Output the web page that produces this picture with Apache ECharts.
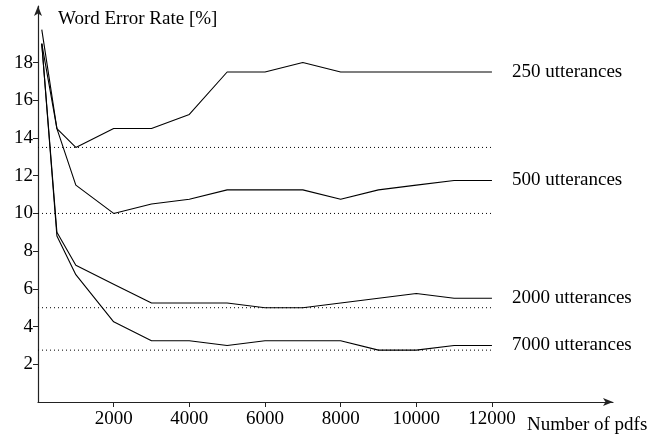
<!DOCTYPE html>
<html>
<head>
<meta charset="utf-8">
<script src="https://cdn.jsdelivr.net/npm/echarts@6/dist/echarts.min.js"></script>
<style>html,body{margin:0;padding:0;background:#fff}#c{width:658px;height:435px}</style>
</head>
<body>
<div id="c"></div>
<script>
const pdfs = [100, 500, 1000, 2000, 3000, 4000, 5000, 6000, 7000, 8000, 9000, 10000, 11000, 12000];
const names = ['250 utterances', '500 utterances', '2000 utterances', '7000 utterances'];
const wer250  = [19.75, 14.5, 13.5, 14.5, 14.5, 15.25, 17.5, 17.5, 18.0, 17.5, 17.5, 17.5, 17.5, 17.5];
const wer500  = [19.0, 14.5, 11.5, 10.0, 10.5, 10.75, 11.25, 11.25, 11.25, 10.75, 11.25, 11.5, 11.75, 11.75];
const wer2000 = [19.0, 9.0, 7.25, 6.25, 5.25, 5.25, 5.25, 5.0, 5.0, 5.25, 5.5, 5.75, 5.5, 5.5];
const wer7000 = [19.0, 8.8, 6.75, 4.25, 3.25, 3.25, 3.0, 3.25, 3.25, 3.25, 2.75, 2.75, 3.0, 3.0];
const refLevels = [13.5, 10.0, 5.0, 2.75];
const refRange = [0, 12000];
const xTicks = [2000, 4000, 6000, 8000, 10000, 12000];
const yTicks = [2, 4, 6, 8, 10, 12, 14, 16, 18];

const FONT = '"Liberation Serif", "DejaVu Serif", serif';
const FS = 19;
const allSeries = [wer250, wer500, wer2000, wer7000];

const series = [];
refLevels.forEach(function (lv) {
  series.push({
    type: 'line', silent: true, symbol: 'none',
    data: refRange.map(function (x) { return [x, lv]; }),
    lineStyle: { color: '#000', width: 1, type: [1, 3] }
  });
});
allSeries.forEach(function (ys, i) {
  series.push({
    name: names[i], type: 'line', symbol: 'none',
    data: pdfs.map(function (x, j) { return [x, ys[j]]; }),
    lineStyle: { color: '#000', width: 1.1 },
    endLabel: { show: true, formatter: '{a}', distance: 20, color: '#000', fontFamily: FONT, fontSize: FS }
  });
});

const baseX = { type: 'value', min: 0, max: 15200, splitLine: { show: false } };
const baseY = { type: 'value', min: 0, max: 21, splitLine: { show: false } };

const option = {
  animation: false,
  backgroundColor: '#fff',
  grid: { left: 38, right: 45, top: 6, bottom: 32, containLabel: false },
  xAxis: [
    Object.assign({}, baseX, {
      name: 'Number of pdfs', nameLocation: 'end', nameGap: -86,
      nameTextStyle: { color: '#000', fontFamily: FONT, fontSize: FS, align: 'left', verticalAlign: 'top', padding: [14, 0, 0, 0] },
      axisLine: { show: true, lineStyle: { color: '#222', width: 1.2 }, symbol: ['none', 'arrow'], symbolSize: [6, 10] },
      axisTick: { show: true, inside: false, length: 5, customValues: xTicks, lineStyle: { color: '#222' } },
      axisLabel: { show: true, customValues: xTicks, margin: 8, color: '#000', fontFamily: FONT, fontSize: FS,
        formatter: function (v) { return String(v); } }
    }),
    Object.assign({}, baseX, {
      axisLine: { show: false },
      axisTick: { show: true, inside: true, length: 5, customValues: xTicks, lineStyle: { color: '#222' } },
      axisLabel: { show: false }
    })
  ],
  yAxis: [
    Object.assign({}, baseY, {
      name: 'Word Error Rate [%]', nameLocation: 'end', nameGap: -13,
      nameTextStyle: { color: '#000', fontFamily: FONT, fontSize: FS, align: 'left', verticalAlign: 'middle', padding: [0, 0, 0, 20] },
      axisLine: { show: true, lineStyle: { color: '#222', width: 1.2 }, symbol: ['none', 'arrow'], symbolSize: [6, 10] },
      axisTick: { show: true, inside: false, length: 5, customValues: yTicks, lineStyle: { color: '#222' } },
      axisLabel: { show: true, customValues: yTicks, margin: 5, color: '#000', fontFamily: FONT, fontSize: FS,
        formatter: function (v) { return String(v); } }
    }),
    Object.assign({}, baseY, {
      axisLine: { show: false },
      axisTick: { show: true, inside: true, length: 5, customValues: yTicks, lineStyle: { color: '#222' } },
      axisLabel: { show: false }
    })
  ],
  series: series
};

const chart = echarts.init(document.getElementById('c'), null, { renderer: 'canvas' });
chart.setOption(option);
</script>
</body>
</html>
